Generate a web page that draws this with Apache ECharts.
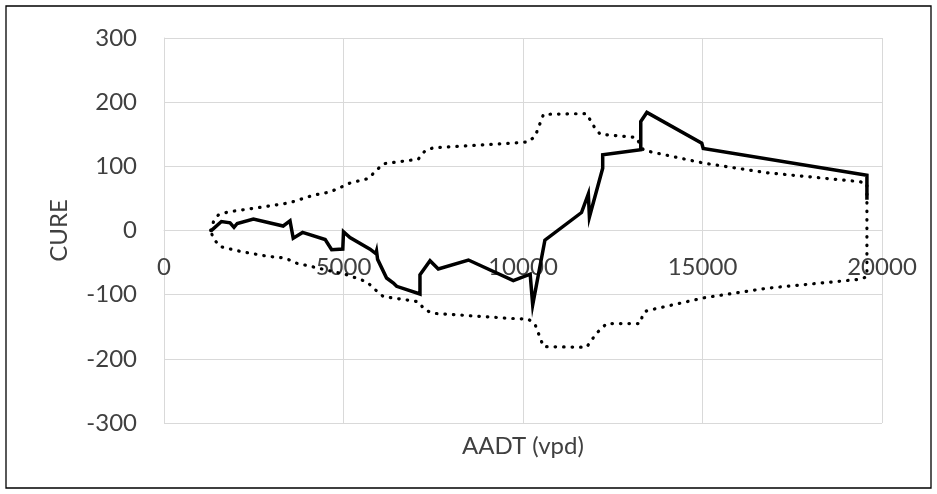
<!DOCTYPE html>
<html>
<head>
<meta charset="utf-8">
<script src="https://cdn.jsdelivr.net/npm/echarts@6/dist/echarts.min.js"></script>
<style>html,body{margin:0;padding:0;background:#fff;}#c{width:937px;height:494px;}</style>
</head>
<body>
<div id="c"></div>
<script>
var xTicks = [0, 5000, 10000, 15000, 20000];
var yTicks = [-300, -200, -100, 0, 100, 200, 300];

var cureX = [1300,1600,1840,1950,2040,2490,3320,3510,3600,3860,4490,4670,4980,5000,5180,5740,5900,5920,5950,6200,6390,6430,6480,6530,7130,7130,7410,7640,8480,9730,10200,10270,10610,11630,11820,11850,12220,12220,13280,13280,13450,14980,15020,19580,19580];
var cureY = [-1,14,12,5,11,18,7,15,-12,-3,-14,-30,-29,-2,-11,-29,-36,-32,-45,-74,-82,-81,-87,-90,-99,-69,-47,-60,-46,-78,-68,-116,-15,28,57,21,97,118,126,170,184,136,128,86,48];

var upperX = [1300,1380,1510,1790,2670,3370,3600,4160,4620,4950,5180,5690,5920,6110,6800,7080,7270,7500,9640,10150,10340,10570,11500,11770,12000,12150,13150,13350,13450,15030,16790,19390,19580];
var upperY = [0,14,24,29,36,42,45,55,60,68,74,81,94,104,109,111,124,129,136,138,147,181,182,182,160,150,145,126,124,105,90,76,73];

var lowerX = [1300,1370,1560,2160,2860,3370,3700,4250,5090,5650,5880,6110,6850,7080,7270,7500,9640,10150,10340,10570,11770,12050,12330,13260,13350,13450,15030,16790,19390,19580];
var lowerY = [0,-12,-25,-33,-40,-43,-51,-58,-69,-80,-92,-103,-109,-111,-124,-129,-137,-138,-147,-181,-182,-160,-145,-145,-129,-125,-105,-90,-76,-72];

function pairs(xs, ys) { return xs.map(function (x, i) { return [x, ys[i]]; }); }
var cureData = pairs(cureX, cureY);
var boundData = pairs(upperX, upperY).concat(pairs(lowerX, lowerY).reverse());

var FONT = 'Lato';
var TXT = '#404040';
var GRID = '#d9d9d9';
function plain(v) { return String(v); }

var chart = echarts.init(document.getElementById('c'), null, {renderer: 'canvas'});
chart.setOption({
  animation: false,
  backgroundColor: '#fff',
  grid: {left: 164, right: 55, top: 38, bottom: 71, containLabel: false, outerBoundsMode: 'none'},
  graphic: [{
    type: 'rect', silent: true, z: 100,
    shape: {x: 6, y: 6, width: 925, height: 482},
    style: {fill: null, stroke: '#000', lineWidth: 1.3}
  }],
  xAxis: {
    type: 'value', min: xTicks[0], max: xTicks[xTicks.length - 1], interval: 5000,
    position: 'bottom', offset: -192.5,
    name: 'AADT (vpd)', nameLocation: 'middle', nameGap: 204,
    nameTextStyle: {fontFamily: FONT, fontSize: 24, color: TXT},
    axisLine: {show: true, onZero: false, lineStyle: {color: GRID, width: 1}},
    axisTick: {show: false},
    axisLabel: {fontFamily: FONT, fontSize: 24, color: TXT, margin: 25, formatter: plain},
    splitLine: {show: true, lineStyle: {color: GRID, width: 1}}
  },
  yAxis: {
    type: 'value', min: yTicks[0], max: yTicks[yTicks.length - 1], interval: 100,
    name: 'CURE', nameLocation: 'middle', nameGap: 93, nameRotate: 90,
    nameTextStyle: {fontFamily: FONT, fontSize: 24, color: TXT},
    axisLine: {show: true, onZero: false, lineStyle: {color: GRID, width: 1}},
    axisTick: {show: false},
    axisLabel: {fontFamily: FONT, fontSize: 24, color: TXT, margin: 27, formatter: plain},
    splitLine: {show: true, lineStyle: {color: GRID, width: 1}}
  },
  series: [{
    type: 'line', data: boundData, showSymbol: false, symbol: 'none', z: 2,
    lineStyle: {color: '#000', width: 3.2, type: [0.5, 8], cap: 'round'}
  }, {
    type: 'line', data: cureData, showSymbol: false, symbol: 'none', z: 3,
    lineStyle: {color: '#000', width: 3.5, join: 'miter'}
  }]
});
</script>
</body>
</html>
